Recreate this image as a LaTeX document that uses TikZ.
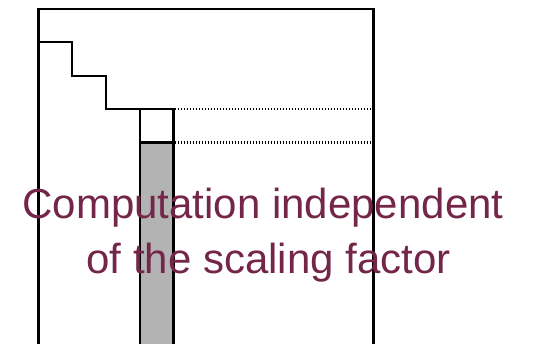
\documentclass[tikz,border=0pt]{standalone}
\usepackage{fontspec}
\setmainfont{Liberation Sans}
\definecolor{maroon}{RGB}{115,38,72}
\definecolor{colgray}{RGB}{179,179,179}
\tikzset{
  outline/.style={line width=2.2pt, draw=black},
  dotline/.style={line width=2.2pt, dash pattern=on 1.8pt off 1.2pt},
  caption/.style={anchor=base, text=maroon, inner sep=0pt, font=\fontsize{42}{50}\selectfont}
}
\begin{document}
\begin{tikzpicture}[x=1pt,y=-1pt]
\useasboundingbox (0,0) rectangle (556,344);
\fill[white] (0,0) rectangle (556,344);
% outer frame
\draw[outline] (38.5,9) rectangle (373.5,345);
% staircase
\draw[outline] (38.5,42) -| (72.3,75.7) -| (106.3,109) -- (140,109);
% small box
\draw[outline] (140,109) rectangle (173.5,142.5);
% gray column
\draw[outline, fill=colgray] (140,142.5) rectangle (173.5,360);
% dotted lines
\draw[dotline] (174.5,109) -- (373.5,109);
\draw[dotline] (174.5,142.5) -- (373.5,142.5);
% text
\node[caption] (l1) at (263,219) {Computation independent};
\node[caption] (l2) at (268.5,273) {of the scaling factor};
\end{tikzpicture}
\end{document}
